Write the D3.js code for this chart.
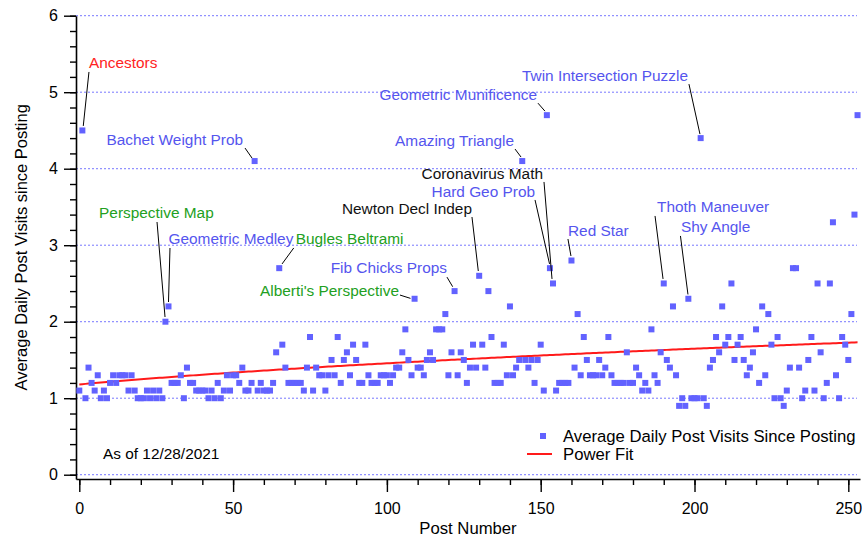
<!DOCTYPE html>
<html>
<head>
<meta charset="utf-8">
<script src="https://cdn.jsdelivr.net/npm/d3@7"></script>
<style>
  body { margin: 0; background: #fff; }
  svg { display: block; font-family: "Liberation Sans", Arial, sans-serif; }
</style>
</head>
<body>
<div id="chart"></div>
<script>
// average daily visits since posting, one value per post (index = post number)
const visits = [
  1.1, 4.5, 1.0, 1.4, 1.2, 1.1, 1.3, 1.0, 1.1, 1.0,
  1.2, 1.3, 1.2, 1.3, 1.3, 1.3, 1.1, 1.3, 1.1, 1.0,
  1.0, 1.0, 1.1, 1.0, 1.1, 1.0, 1.1, 1.0, 2.0, 2.2,
  1.2, 1.2, 1.2, 1.3, 1.0, 1.4, 1.2, 1.2, 1.1, 1.1,
  1.1, 1.1, 1.0, 1.1, 1.0, 1.2, 1.0, 1.1, 1.3, 1.1,
  1.3, 1.3, 1.2, 1.4, 1.1, 1.1, 1.2, 4.1, 1.1, 1.2,
  1.1, 1.1, 1.1, 1.2, 1.6, 2.7, 1.7, 1.4, 1.2, 1.2,
  1.2, 1.2, 1.2, 1.1, 1.4, 1.8, 1.1, 1.4, 1.3, 1.3,
  1.1, 1.3, 1.5, 1.3, 1.8, 1.2, 1.5, 1.6, 1.3, 1.7,
  1.5, 1.2, 1.2, 1.7, 1.3, 1.2, 1.2, 1.2, 1.3, 1.3,
  1.3, 1.2, 1.3, 1.4, 1.4, 1.6, 1.9, 1.5, 1.3, 2.3,
  1.4, 1.4, 1.3, 1.5, 1.6, 1.5, 1.9, 1.9, 1.9, 2.1,
  1.3, 1.6, 2.4, 1.3, 1.6, 1.5, 1.2, 1.4, 1.7, 1.4,
  2.6, 1.7, 1.4, 2.4, 1.8, 1.2, 1.2, 1.2, 1.7, 1.3,
  2.2, 1.3, 1.4, 1.5, 4.1, 1.5, 1.4, 1.5, 1.2, 1.5,
  1.7, 1.1, 4.7, 2.7, 2.5, 1.1, 1.2, 1.2, 1.2, 1.2,
  2.8, 1.4, 2.1, 1.3, 1.8, 1.5, 1.3, 1.3, 1.3, 1.5,
  1.3, 1.4, 1.8, 1.3, 1.2, 1.2, 1.2, 1.2, 1.6, 1.2,
  1.2, 1.4, 1.3, 1.1, 1.2, 1.1, 1.9, 1.3, 1.2, 1.6,
  2.5, 1.5, 1.4, 2.2, 1.3, 0.9, 1.0, 0.9, 2.3, 1.0,
  1.0, 1.0, 4.4, 1.0, 0.9, 1.4, 1.5, 1.8, 1.6, 2.2,
  1.7, 1.8, 2.5, 1.5, 1.7, 1.8, 1.5, 1.3, 1.4, 1.6,
  1.9, 1.2, 2.2, 1.3, 2.1, 1.7, 1.0, 1.8, 1.0, 0.9,
  1.1, 1.4, 2.7, 2.7, 1.4, 1.0, 1.1, 1.5, 1.8, 1.1,
  2.5, 1.6, 1.0, 1.2, 2.5, 3.3, 1.3, 1.0, 1.8, 1.7,
  1.5, 2.1, 3.4, 4.7
];

// power fit y = a * (post + c)^b
const fitA = 0.292, fitB = 0.3033, fitC = 100;

const xTicks = [0, 50, 100, 150, 200, 250];
const yTicks = [0, 1, 2, 3, 4, 5, 6];

// labelled posts: text offsets and leader lines are relative to the marker
const notes = [
  { post: 1,   text: 'Ancestors',                color: '#ff2222', anchor: 'start',  tx: 6.6,   ty: -62.5, l: [6.6, -58.5, 0.9, -4.5] },
  { post: 57,  text: 'Bachet Weight Prob',       color: '#5555ee', anchor: 'end',    tx: -11.6, ty: -16,   l: [-9.6, -13, -2.6, -3] },
  { post: 28,  text: 'Perspective Map',          color: '#22a022', anchor: 'middle', tx: -9,    ty: -103.7, l: [-8.4, -99.7, -0.4, -4.7] },
  { post: 29,  text: 'Geometric Medley',         color: '#5555ee', anchor: 'start',  tx: 0,     ty: -62.4, l: [1.5, -58.4, 0, -4.4] },
  { post: 65,  text: 'Bugles Beltrami',          color: '#22a022', anchor: 'start',  tx: 16.5,  ty: -24.2, l: [14.5, -20.2, 2.8, -4.2] },
  { post: 109, text: "Alberti's Perspective",    color: '#22a022', anchor: 'end',    tx: -15.6, ty: -2.7,  l: [-14.6, -3.7, -4.1, -0.4] },
  { post: 122, text: 'Fib Chicks Props',         color: '#5555ee', anchor: 'end',    tx: -7.6,  ty: -18,   l: [-7.6, -14, -1.9, -4.4] },
  { post: 130, text: 'Newton Decl Indep',        color: '#111111', anchor: 'end',    tx: -7.2,  ty: -61.8, l: [-7.2, -58.8, -0.9, -4.8] },
  { post: 154, text: 'Coronavirus Math',         color: '#111111', anchor: 'end',    tx: -10,   ty: -104.5, l: [-9, -101.5, -1, -4.5] },
  { post: 153, text: 'Hard Geo Prob',            color: '#5555ee', anchor: 'end',    tx: -14.9, ty: -71.2, l: [-14.9, -68.2, -0.4, -4.2] },
  { post: 144, text: 'Amazing Triangle',         color: '#5555ee', anchor: 'end',    tx: -8.2,  ty: -15,   l: [-7.2, -12, -1.2, -4] },
  { post: 152, text: 'Geometric Munificence',    color: '#5555ee', anchor: 'end',    tx: -9.9,  ty: -15.2, l: [-8.9, -12, -1.9, -4] },
  { post: 202, text: 'Twin Intersection Puzzle', color: '#5555ee', anchor: 'end',    tx: -12.7, ty: -57,   l: [-11.7, -54, -0.7, -4] },
  { post: 160, text: 'Red Star',                 color: '#5555ee', anchor: 'start',  tx: -3.5,  ty: -24.5, l: [-3.5, -21.5, -0.5, -4.5] },
  { post: 190, text: 'Thoth Maneuver',           color: '#5555ee', anchor: 'start',  tx: -6.7,  ty: -71.5, l: [-8.7, -67.5, -0.7, -4.5] },
  { post: 198, text: 'Shy Angle',                color: '#5555ee', anchor: 'start',  tx: -7.4,  ty: -66.8, l: [-7.9, -62.8, -0.4, -4.3] }
];

const width = 862, height = 538;
const plot = { left: 76, right: 860, top: 15.7, bottom: 479 };

const svg = d3.select('#chart').append('svg')
    .attr('width', width)
    .attr('height', height);

const x = d3.scaleLinear()
    .domain([-1.07, 253.8])
    .range([plot.left, plot.right]);

const y = d3.scaleLinear()
    .domain([-0.056, 6])
    .range([plot.bottom, plot.top]);

// dotted gridlines
svg.append('g')
  .selectAll('line')
  .data(yTicks)
  .enter().append('line')
    .attr('x1', plot.left)
    .attr('x2', 857)
    .attr('y1', d => y(d))
    .attr('y2', d => y(d))
    .attr('stroke', '#7777ff')
    .attr('stroke-width', 1)
    .attr('stroke-dasharray', '2,2');

// minor ticks
svg.append('g')
    .attr('transform', `translate(${plot.left},0)`)
    .call(d3.axisLeft(y).tickValues(d3.range(0, 6.01, 0.2)).tickSize(6).tickSizeOuter(0).tickFormat(''))
    .call(g => g.select('.domain').remove());

svg.append('g')
    .attr('transform', `translate(0,${plot.bottom})`)
    .call(d3.axisBottom(x).tickValues(d3.range(0, 251, 10)).tickSize(6).tickSizeOuter(0).tickFormat(''))
    .call(g => g.select('.domain').remove());

// major axes
const yAxis = svg.append('g')
    .attr('transform', `translate(${plot.left},0)`)
    .call(d3.axisLeft(y).tickValues(yTicks).tickSize(12).tickPadding(6).tickSizeOuter(0).tickFormat(d3.format('d')));

const xAxis = svg.append('g')
    .attr('transform', `translate(0,${plot.bottom})`)
    .call(d3.axisBottom(x).tickValues(xTicks).tickSize(13).tickPadding(11).tickSizeOuter(0).tickFormat(d3.format('d')));

[xAxis, yAxis].forEach(g => {
  g.selectAll('path, line').attr('stroke', '#000').attr('stroke-width', 1.6);
  g.selectAll('text')
      .attr('fill', '#000')
      .style('font-size', '16px')
      .style('font-family', '"Liberation Sans", Arial, sans-serif');
});
svg.selectAll('.tick line').attr('stroke', '#000').attr('stroke-width', 1.4);

// axis titles
svg.append('text')
    .attr('x', (plot.left + plot.right) / 2)
    .attr('y', 534)
    .attr('text-anchor', 'middle')
    .style('font-size', '16.7px')
    .text('Post Number');

svg.append('text')
    .attr('transform', `translate(27,${(plot.top + plot.bottom) / 2}) rotate(-90)`)
    .attr('text-anchor', 'middle')
    .style('font-size', '16.5px')
    .text('Average Daily Post Visits since Posting');

// power fit
const fitLine = d3.line()
    .x((d, i) => x(i))
    .y((d, i) => y(fitA * Math.pow(i + fitC, fitB)));

svg.append('path')
    .datum(visits)
    .attr('d', fitLine)
    .attr('fill', 'none')
    .attr('stroke', '#ff1a1a')
    .attr('stroke-width', 2);

// markers
const sq = 6;
svg.append('g')
  .selectAll('rect')
  .data(visits)
  .enter().append('rect')
    .attr('x', (d, i) => x(i) - sq / 2)
    .attr('y', d => y(d) - sq / 2)
    .attr('width', sq)
    .attr('height', sq)
    .attr('fill', '#6262ff');

// labels
const ng = svg.append('g').style('font-size', '15.4px');
notes.forEach(n => {
  const px = x(n.post), py = y(visits[n.post]);
  ng.append('line')
      .attr('x1', px + n.l[0]).attr('y1', py + n.l[1])
      .attr('x2', px + n.l[2]).attr('y2', py + n.l[3])
      .attr('stroke', '#000')
      .attr('stroke-width', 1);
  ng.append('text')
      .attr('x', px + n.tx)
      .attr('y', py + n.ty)
      .attr('text-anchor', n.anchor)
      .attr('fill', n.color)
      .text(n.text);
});

// legend
const lg = svg.append('g').style('font-size', '16.7px');
lg.append('rect')
    .attr('x', 540).attr('y', 433)
    .attr('width', 6).attr('height', 6)
    .attr('fill', '#6262ff');
lg.append('text').attr('x', 563).attr('y', 442).text('Average Daily Post Visits Since Posting');
lg.append('line')
    .attr('x1', 527).attr('x2', 552)
    .attr('y1', 454).attr('y2', 454)
    .attr('stroke', '#ff1a1a').attr('stroke-width', 2);
lg.append('text').attr('x', 563).attr('y', 460).text('Power Fit');

svg.append('text')
    .attr('x', 103)
    .attr('y', 459)
    .style('font-size', '15.4px')
    .text('As of 12/28/2021');
</script>
</body>
</html>
